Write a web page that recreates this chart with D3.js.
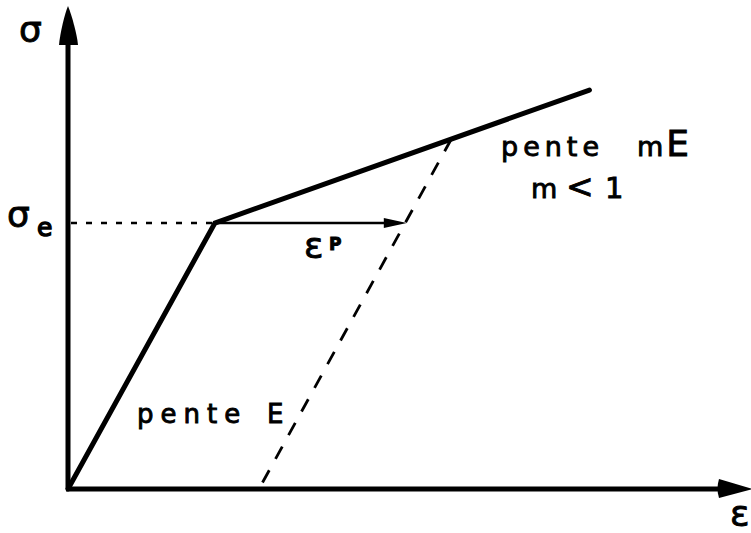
<!DOCTYPE html>
<html>
<head>
<meta charset="utf-8">
<script src="https://cdn.jsdelivr.net/npm/d3@7/dist/d3.min.js"></script>
<style>
  html, body { margin: 0; padding: 0; background: #fff; overflow: hidden; }
  svg { display: block; }
  text { font-family: "DejaVu Sans", sans-serif; fill: #000; }
  .lettering { stroke: #000; stroke-width: 0.9; }
</style>
</head>
<body>
<script>
// Bilinear elastic / linear-hardening stress-strain law (strain and stress
// normalised by the yield values).
const curveStrain = [0, 1.0, 3.55];
const curveStress = [0, 1.0, 1.5];

// Elastic unloading from a point on the hardening branch (slope E).
const unloadStrain = [2.61, 1.30];
const unloadStress = [1.316, 0];

// Yield stress level and the plastic strain span drawn at that level.
const yieldStress = [1.0];
const plasticSpan = [1.0, 2.30];

// Axis extents.
const axisStrainMax = [4.65];
const axisStressMax = [1.816];

const W = 751, H = 533;
const svg = d3.select("body").append("svg").attr("width", W).attr("height", H);

const x = d3.scaleLinear().domain([0, axisStrainMax[0]]).range([68, 751]);
const y = d3.scaleLinear().domain([0, axisStressMax[0]]).range([489, 6]);

const line = d3.line().x(d => x(d[0])).y(d => y(d[1]));

// Axes
svg.append("line")
  .attr("x1", x(0)).attr("y1", y(0)).attr("x2", x(0)).attr("y2", y(axisStressMax[0]) + 30)
  .attr("stroke", "#000").attr("stroke-width", 5);
svg.append("line")
  .attr("x1", x(0) - 2).attr("y1", y(0)).attr("x2", x(axisStrainMax[0]) - 25).attr("y2", y(0))
  .attr("stroke", "#000").attr("stroke-width", 5);

// Arrow heads of the axes
const yt = y(axisStressMax[0]), x0 = x(0);
svg.append("path")
  .attr("d", `M${x0},${yt} C${x0 + 4},${yt + 10} ${x0 + 9},${yt + 28} ${x0 + 10},${yt + 39}
              L${x0 - 9},${yt + 39} C${x0 - 8},${yt + 28} ${x0 - 4},${yt + 10} ${x0},${yt} Z`)
  .attr("fill", "#000");
const xt = x(axisStrainMax[0]), y0 = y(0);
svg.append("path")
  .attr("d", `M${xt + 2},${y0} L${xt - 32},${y0 - 10} Q${xt - 35},${y0} ${xt - 32},${y0 + 9} Z`)
  .attr("fill", "#000");

// Yield stress reference line
svg.append("line")
  .attr("x1", x(0) + 3).attr("y1", y(yieldStress[0]))
  .attr("x2", x(plasticSpan[0])).attr("y2", y(yieldStress[0]))
  .attr("stroke", "#000").attr("stroke-width", 2.6)
  .attr("stroke-dasharray", "6,9");

// Elastic unloading (dashed)
svg.append("path")
  .datum(unloadStrain.map((e, i) => [e, unloadStress[i]]))
  .attr("d", line)
  .attr("fill", "none").attr("stroke", "#000").attr("stroke-width", 2.8)
  .attr("stroke-dasharray", "14,13");

// Plastic strain arrow
const ay = y(yieldStress[0]);
const ax1 = x(plasticSpan[0]), ax2 = x(plasticSpan[1]);
svg.append("line")
  .attr("x1", ax1).attr("y1", ay).attr("x2", ax2 - 18).attr("y2", ay)
  .attr("stroke", "#000").attr("stroke-width", 2.4);
svg.append("path")
  .attr("d", `M${ax2 + 1},${ay} L${ax2 - 22},${ay - 5} L${ax2 - 22},${ay + 5} Z`)
  .attr("fill", "#000");

// Stress-strain curve
svg.append("path")
  .datum(curveStrain.map((e, i) => [e, curveStress[i]]))
  .attr("d", line)
  .attr("fill", "none").attr("stroke", "#000").attr("stroke-width", 5)
  .attr("stroke-linejoin", "miter").attr("stroke-linecap", "round");

// Labels
svg.append("text").attr("class", "lettering").attr("x", 19).attr("y", 42).attr("font-size", 36).text("σ");

const se = svg.append("text").attr("class", "lettering").attr("x", 7).attr("y", 227).attr("font-size", 36);
se.append("tspan").text("σ");
se.append("tspan").attr("x", 37).attr("y", 236).attr("font-size", 25).attr("stroke-width", 1.4).text("e");

svg.append("text").attr("class", "lettering").attr("x", 730).attr("y", 526).attr("font-size", 36).text("ε");

const ep = svg.append("text").attr("class", "lettering").attr("x", 304).attr("y", 258).attr("font-size", 36);
ep.append("tspan").text("ε");
ep.append("tspan").attr("x", 329).attr("y", 250).attr("font-size", 17).attr("font-weight", "bold").text("P");

const t1 = svg.append("text").attr("class", "lettering").attr("y", 156).attr("font-size", 27);
t1.append("tspan").attr("x", 501).attr("letter-spacing", 5).text("pente");
t1.append("tspan").attr("x", 637).attr("letter-spacing", 3).text("m");
t1.append("tspan").attr("font-size", 36).text("E");

const t2 = svg.append("text").attr("class", "lettering").attr("y", 198).attr("font-size", 27);
t2.append("tspan").attr("x", 531).text("m");
t2.append("tspan").attr("x", 566).attr("font-size", 33).text("<");
t2.append("tspan").attr("x", 605).attr("font-size", 29).text("1");

const t3 = svg.append("text").attr("class", "lettering").attr("y", 423).attr("font-size", 26);
t3.append("tspan").attr("x", 137).attr("letter-spacing", 7).text("pente");
t3.append("tspan").attr("x", 267).text("E");
</script>
</body>
</html>
